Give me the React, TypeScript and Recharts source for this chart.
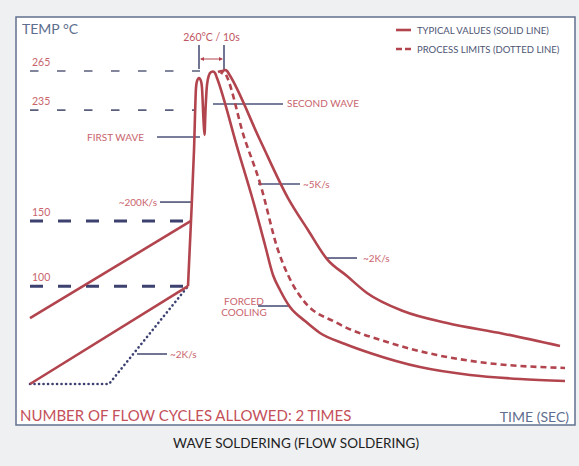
import React from 'react';
import { LineChart, Line, XAxis, YAxis, ReferenceLine } from 'recharts';

const W = 579;
const H = 466;

// temperature levels marked with dashed guides (°C)
const levels = [265, 235, 150, 100];
const levelEnds = [68, 66, 63.5, 63.2];

// typical profile (solid), slow preheat up to 100 °C. t = s, T = °C
const typicalPreheatSlow = [
  { t: 0, T: 25 },
  { t: 63.2, T: 100 },
];

// typical profile (solid): rise, first + second wave, forced cooling
const typicalMain = [
  { t: 63.2, T: 100 },
  { t: 64.4, T: 150 },
  { t: 65.6, T: 204 },
  { t: 66.4, T: 252 },
  { t: 66.8, T: 257.3 },
  { t: 67.6, T: 259.6 },
  { t: 68.4, T: 257.3 },
  { t: 68.8, T: 252 },
  { t: 69.4, T: 227.4 },
  { t: 69.8, T: 216 },
  { t: 70.2, T: 235.1 },
  { t: 70.8, T: 254.3 },
  { t: 71.6, T: 261.9 },
  { t: 72.4, T: 264.2 },
  { t: 73.2, T: 264.6 },
  { t: 74, T: 263.5 },
  { t: 74.8, T: 259.6 },
  { t: 83.2, T: 204.4 },
  { t: 88.8, T: 168.4 },
  { t: 94, T: 131.6 },
  { t: 97.2, T: 108.6 },
  { t: 100, T: 97.1 },
  { t: 104, T: 84 },
  { t: 110, T: 73.3 },
  { t: 116, T: 64.1 },
  { t: 126, T: 55.7 },
  { t: 136, T: 48.8 },
  { t: 156, T: 38 },
  { t: 176, T: 31.9 },
  { t: 196, T: 28.8 },
  { t: 214, T: 27.3 },
];

// typical profile, faster preheat
const typicalPreheat = [
  { t: 0, T: 75.5 },
  { t: 64.4, T: 150 },
];

// typical profile, slow cooling
const typicalSlowCool = [
  { t: 76.4, T: 262.7 },
  { t: 77.2, T: 265 },
  { t: 78, T: 265.8 },
  { t: 78.8, T: 265 },
  { t: 79.6, T: 262.7 },
  { t: 92, T: 212.1 },
  { t: 103.2, T: 167.6 },
  { t: 111.2, T: 143.1 },
  { t: 118.8, T: 120.8 },
  { t: 126.8, T: 107.8 },
  { t: 134.8, T: 94.8 },
  { t: 149.2, T: 81 },
  { t: 166.8, T: 71.8 },
  { t: 189.2, T: 63.6 },
  { t: 212, T: 54.1 },
];

// process limit (dashed red)
const limitCooling = [
  { t: 75.2, T: 264.2 },
  { t: 76.8, T: 265 },
  { t: 86, T: 212.1 },
  { t: 92, T: 179.1 },
  { t: 99.2, T: 127.7 },
  { t: 104.8, T: 102.4 },
  { t: 109.2, T: 89.4 },
  { t: 122.8, T: 71.8 },
  { t: 142.8, T: 57.2 },
  { t: 162.8, T: 47.2 },
  { t: 182.8, T: 41.1 },
  { t: 214, T: 37.3 },
];

// process limit preheat (dotted navy)
const limitPreheat = [
  { t: 0, T: 25 },
  { t: 31.6, T: 25 },
  { t: 63.2, T: 100 },
];

// leader lines for the notes: [t1, t2, T]
const leaders = [
  [50.8, 68, 214.4],
  [73.2, 101.2, 239.7],
  [52, 64.4, 164.5],
  [91.2, 108, 178.4],
  [118.8, 130.8, 121.6],
  [42.8, 54.8, 48],
  [91.2, 103.6, 84.8],
];

// layout: 2.5 px per second, 313 px per 240 °C, origin t=0 at x=30, T=265 at y=71
const PX_S = 2.5;
const PX_C = 313 / 240;
const X0 = 30;
const Y265 = 71;
const xDomain = [-X0 / PX_S, (W - X0) / PX_S];
const yDomain = [265 - (H - Y265) / PX_C, 265 + Y265 / PX_C];
const px = (t: number) => X0 + t * PX_S;
const py = (T: number) => Y265 + (265 - T) * PX_C;

const RED = '#b2444e';
const NAVY = '#3c4170';
const LEAD = '#4d5378';
const NOTE = '#c9646d';
const FONT = 'Lato, "Open Sans", sans-serif';

export default function App() {
  const note = (x: number, y: number, s: string, anchor: 'start' | 'end' | 'middle' = 'start') => (
    <text x={x} y={y} fontSize={10} fill={NOTE} textAnchor={anchor} dominantBaseline="central">
      {s}
    </text>
  );
  const common = { dataKey: 'T', dot: false, activeDot: false, isAnimationActive: false, strokeWidth: 2.6 } as const;
  return (
    <div style={{ position: 'absolute', left: 0, top: 0, width: W, height: H, background: '#eef0f2', fontFamily: FONT }}>
      <svg width={W} height={H} style={{ position: 'absolute', left: 0, top: 0 }}>
        <rect x={16} y={17} width={559} height={408} fill="#fff" stroke="#61708f" strokeWidth={1.5} />
      </svg>
      <div style={{ position: 'absolute', left: 0, top: 0 }}>
        <LineChart width={W} height={H} margin={{ top: 0, right: 0, bottom: 0, left: 0 }}>
          <XAxis type="number" dataKey="t" domain={xDomain} allowDataOverflow hide />
          <YAxis type="number" dataKey="T" domain={yDomain} allowDataOverflow hide />
          {levels.map((lv, i) => (
            <ReferenceLine
              key={lv}
              segment={[{ x: 0, y: lv }, { x: levelEnds[i], y: lv }]}
              stroke={lv > 200 ? '#5a5f7c' : NAVY}
              strokeWidth={lv > 200 ? 1.7 : 3}
              strokeDasharray={lv > 200 ? '8.5 18.5' : '13 15'}
            />
          ))}
          {leaders.map(([a, b, T], i) => (
            <ReferenceLine key={'l' + i} segment={[{ x: a, y: T }, { x: b, y: T }]} stroke={LEAD} strokeWidth={1.6} />
          ))}
          <ReferenceLine segment={[{ x: 67.6, y: 266.5 }, { x: 67.6, y: 284.9 }]} stroke={LEAD} strokeWidth={1.6} />
          <ReferenceLine segment={[{ x: 77.6, y: 266.5 }, { x: 77.6, y: 284.9 }]} stroke={LEAD} strokeWidth={1.6} />
          <Line {...common} data={limitPreheat} type="linear" stroke={NAVY} strokeDasharray="0.1 4.4" strokeLinecap="round" />
          <Line {...common} data={typicalPreheat} type="linear" stroke={RED} />
          <Line {...common} data={typicalPreheatSlow} type="linear" stroke={RED} />
          <Line {...common} data={typicalMain} type="monotone" stroke={RED} />
          <Line {...common} data={typicalSlowCool} type="monotone" stroke={RED} />
          <Line {...common} data={limitCooling} type="monotone" stroke={RED} strokeDasharray="6 4" />
        </LineChart>
      </div>
      <svg width={W} height={H} style={{ position: 'absolute', left: 0, top: 0, pointerEvents: 'none' }} fontFamily={FONT}>
        <text x={22} y={28} fontSize={14} fill="#5e6e8e" dominantBaseline="central">TEMP °C</text>
        <line x1={396} x2={411} y1={30} y2={30} stroke={RED} strokeWidth={2.6} />
        <line x1={396} x2={411} y1={49} y2={49} stroke={RED} strokeWidth={2.6} strokeDasharray="6 3" />
        <text x={417} y={30} fontSize={9.5} fill="#4d5472" dominantBaseline="central">TYPICAL VALUES (SOLID LINE)</text>
        <text x={417} y={49} fontSize={9.5} fill="#4d5472" dominantBaseline="central">PROCESS LIMITS (DOTTED LINE)</text>
        {levels.map((lv) => (
          <text key={lv} x={32} y={py(lv) - 9} fontSize={10.5} fill={NOTE} dominantBaseline="central">{lv}</text>
        ))}
        <text x={px(72.6)} y={37} fontSize={10.5} fill="#c0565f" textAnchor="middle" dominantBaseline="central">260°C / 10s</text>
        <line x1={px(67.6) + 2} x2={px(77.6) - 2} y1={py(274.2)} y2={py(274.2)} stroke={RED} strokeWidth={1} />
        <path d={`M${px(67.6) + 1},${py(274.2)} l4,-2 v4 z M${px(77.6) - 1},${py(274.2)} l-4,-2 v4 z`} fill={RED} />
        {note(144, 137, 'FIRST WAVE', 'end')}
        {note(287, 103, 'SECOND WAVE')}
        {note(157, 202, '~200K/s', 'end')}
        {note(303, 184, '~5K/s')}
        {note(363, 258, '~2K/s')}
        {note(170, 354, '~2K/s')}
        {note(244, 301, 'FORCED', 'middle')}
        {note(244, 312, 'COOLING', 'middle')}
        <text x={20} y={415} fontSize={15} fill="#c4505a" dominantBaseline="central">NUMBER OF FLOW CYCLES ALLOWED: 2 TIMES</text>
        <text x={569} y={416} fontSize={14} fill="#5e6e8e" textAnchor="end" dominantBaseline="central">TIME (SEC)</text>
        <text x={296} y={443} fontSize={13.5} fill="#222" textAnchor="middle" dominantBaseline="central">WAVE SOLDERING (FLOW SOLDERING)</text>
      </svg>
    </div>
  );
}
